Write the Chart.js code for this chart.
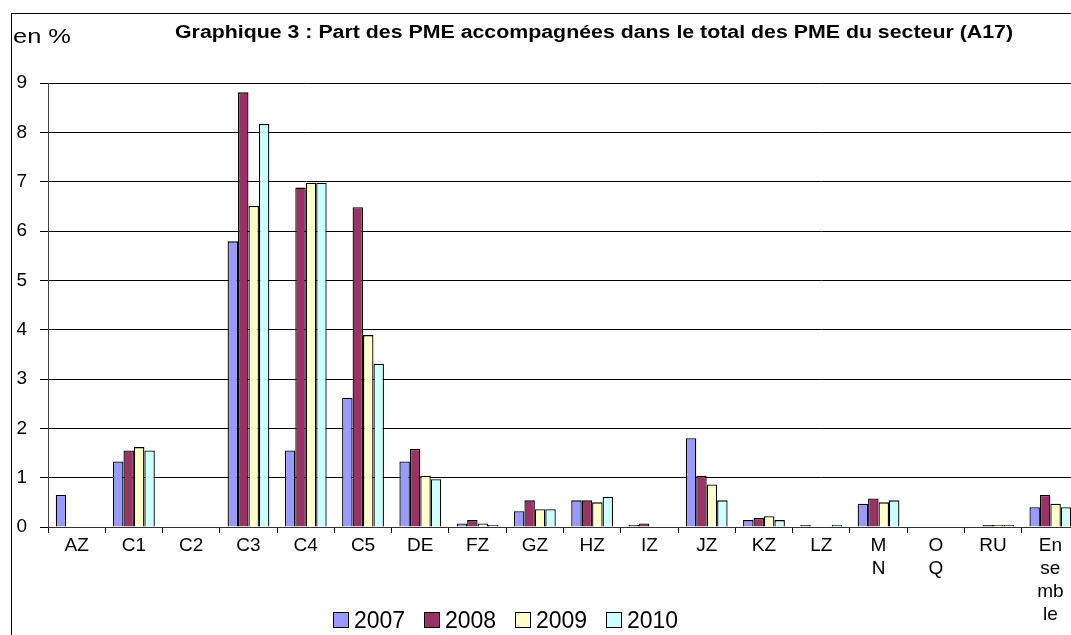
<!DOCTYPE html>
<html>
<head>
<meta charset="utf-8">
<script src="https://cdn.jsdelivr.net/npm/chart.js@4/dist/chart.umd.min.js"></script>
<style>
  html, body { margin: 0; padding: 0; background: #fff; overflow: hidden; }
  #wrap { width: 1090px; height: 650px; position: relative; }
</style>
</head>
<body>
<div id="wrap"><canvas id="chart"></canvas></div>
<script>
// sectors (A17), multi-line labels as Excel wrapped them
const categories = ["AZ", "C1", "C2", "C3", "C4", "C5", "DE", "FZ", "GZ", "HZ", "IZ", "JZ", "KZ", "LZ",
  ["M", "N"], ["O", "Q"], "RU", ["En", "se", "mb", "le"]];
const years = ["2007", "2008", "2009", "2010"];

// en %
const s2007 = [0.65, 1.33, null, 5.79, 1.55, 2.62, 1.33, 0.07, 0.32, 0.54, 0.04, 1.80, 0.14, 0.04, 0.47, null, null, 0.40];
const s2008 = [null, 1.55, null, 8.81, 6.88, 6.48, 1.58, 0.14, 0.54, 0.54, 0.07, 1.04, 0.18, null, 0.58, null, 0.04, 0.65];
const s2009 = [null, 1.62, null, 6.51, 6.98, 3.89, 1.04, 0.07, 0.36, 0.50, null, 0.86, 0.22, null, 0.50, null, 0.04, 0.47];
const s2010 = [null, 1.55, null, 8.17, 6.98, 3.31, 0.97, 0.04, 0.36, 0.61, null, 0.54, 0.14, 0.04, 0.54, null, 0.04, 0.40];

const yTicks = [0, 1, 2, 3, 4, 5, 6, 7, 8, 9];

const colors = ["#9999FF", "#993366", "#FFFFCC", "#CCFFFF"];
const series = [s2007, s2008, s2009, s2010];

const FONT = "'Liberation Sans', Arial, sans-serif";

// text stretched to a given width (the Excel export is wider than the font)
function stretchedText(ctx, text, x, y, targetW, align) {
  const w = ctx.measureText(text).width;
  const k = targetW / w;
  ctx.save();
  const left = align === "center" ? x - targetW / 2 : x;
  ctx.translate(left, y);
  ctx.scale(k, 1);
  ctx.textAlign = "left";
  ctx.fillText(text, 0, 0);
  ctx.restore();
}

// title, unit, frame and legend drawn by hand (Excel-like placement)
const decorations = {
  id: "decorations",
  afterDraw(chart) {
    const ctx = chart.ctx;
    ctx.save();
    ctx.strokeStyle = "#000";
    ctx.lineWidth = 1;
    ctx.strokeRect(11.5, 13.5, 1200, 700);

    ctx.fillStyle = "#000";
    ctx.textBaseline = "alphabetic";
    ctx.font = "21px " + FONT;
    stretchedText(ctx, "en %", 13, 43, 58, "left");

    ctx.font = "bold 18px " + FONT;
    stretchedText(ctx, "Graphique 3 : Part des PME accompagnées dans le total des PME du secteur (A17)", 594, 37.5, 838, "center");

    // legend
    ctx.font = "23px " + FONT;
    ctx.textAlign = "left";
    const box = 16, gap = 5, itemGap = 19;
    const widths = chart.data.datasets.map(d => ctx.measureText(d.label).width);
    let total = widths.reduce((a, w) => a + box + gap + w, 0) + itemGap * (widths.length - 1);
    let x = Math.round(505.5 - total / 2);
    chart.data.datasets.forEach((d, i) => {
      ctx.fillStyle = d.backgroundColor;
      ctx.fillRect(x, 612, box, box);
      ctx.strokeStyle = "#000";
      ctx.strokeRect(x + 0.5, 612.5, box - 1, box - 1);
      ctx.fillStyle = "#000";
      ctx.fillText(d.label, x + box + gap, 628);
      x += Math.round(box + gap + widths[i] + itemGap);
    });
    ctx.restore();
  }
};

new Chart(document.getElementById("chart"), {
  type: "bar",
  data: {
    labels: categories,
    datasets: years.map((y, i) => ({
      label: y,
      data: series[i],
      backgroundColor: colors[i],
      borderColor: "#000",
      borderWidth: 1.3,
      borderSkipped: "start",
      categoryPercentage: 0.73,
      barPercentage: 1.0
    }))
  },
  options: {
    responsive: true,
    maintainAspectRatio: false,
    animation: false,
    layout: { padding: { left: 0, right: 11, top: 83, bottom: 0 } },
    plugins: {
      legend: { display: false },
      title: { display: false },
      tooltip: { enabled: false }
    },
    scales: {
      x: {
        offset: true,
        grid: { display: true, drawOnChartArea: false, color: "#000", tickLength: 6, offset: true },
        border: { color: "#333", width: 1 },
        ticks: {
          color: "#000",
          font: { family: FONT, size: 19, lineHeight: 1.22 },
          padding: 1,
          maxRotation: 0,
          minRotation: 0,
          autoSkip: false
        },
        afterFit(scale) { scale.height = 123; }
      },
      y: {
        min: 0,
        max: 9,
        afterBuildTicks(scale) { scale.ticks = yTicks.map(v => ({ value: v })); },
        grid: { color: "#000", lineWidth: 1, tickLength: 8 },
        border: { color: "#444", width: 1 },
        ticks: {
          color: "#000",
          font: { family: FONT, size: 19 },
          padding: 13
        },
        afterFit(scale) { scale.width = 48; }
      }
    }
  },
  plugins: [decorations]
});
</script>
</body>
</html>
